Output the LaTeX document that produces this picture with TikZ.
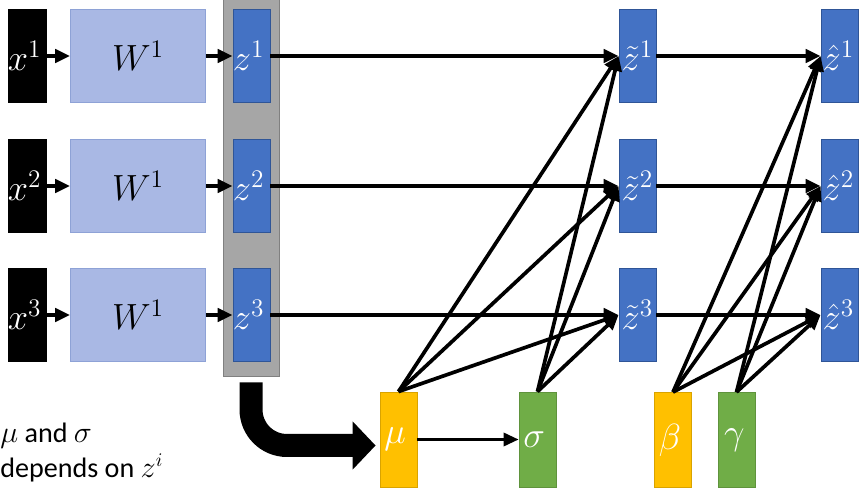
\documentclass[tikz,border=0pt]{standalone}
\usepackage{fontspec}
\setmainfont{Carlito}
\usetikzlibrary{arrows.meta}
\definecolor{wfill}{RGB}{169,184,228}
\definecolor{wline}{RGB}{142,162,214}
\definecolor{zfill}{RGB}{68,114,196}
\definecolor{zline}{RGB}{47,85,151}
\definecolor{colfill}{RGB}{166,166,166}
\definecolor{colline}{RGB}{128,128,128}
\definecolor{mufill}{RGB}{255,192,0}
\definecolor{sgfill}{RGB}{112,173,71}

\begin{document}
\begin{tikzpicture}[x=0.02cm, y=-0.02cm,
  box/.style={draw, line width=0.5pt, minimum width=0.74cm, minimum height=1.86cm, inner sep=0pt},
  xbox/.style={box, fill=black, minimum width=0.76cm},
  wbox/.style={box, draw=wline, fill=wfill, minimum width=2.7cm, font=\fontsize{20}{22}\selectfont},
  zbox/.style={box, draw=zline, fill=zfill},
  mubox/.style={box, draw=mufill!85!black, fill=mufill, minimum height=1.9cm},
  sgbox/.style={box, draw=sgfill!85!black, fill=sgfill, minimum height=1.9cm},
  lbl/.style={text=white, inner sep=0pt, anchor=west, font=\fontsize{20}{22}\selectfont},
  arr/.style={line width=2.1pt, -{Triangle[length=8.5pt,width=7.5pt]}},
  bigarrow/.style={line width=0.46cm, rounded corners=0.72cm, -{Triangle[length=0.46cm,width=0.94cm]}},
  note/.style={anchor=base west, inner sep=0pt, font=\fontsize{16}{20}\selectfont}]
\useasboundingbox (0,0) rectangle (862,499);

\node[draw=colline, fill=colfill, line width=0.5pt, minimum width=1.12cm, minimum height=7.62cm, inner sep=0pt] (col) at (251,185.5) {};

\foreach \i/\y in {1/56,2/186,3/315}{
  \node[xbox] (x\i) at (27,\y) {};
  \node[lbl] at (x\i.west) {$x^{\i}$};
  \node[wbox] (w\i) at (138,\y) {$W^1$};
  \node[zbox] (z\i) at (251.5,\y) {};
  \node[lbl] at (z\i.west) {$z^{\i}$};
  \node[zbox] (tz\i) at (637.5,\y) {};
  \node[lbl, xshift=1.5pt] at (tz\i.west) {$\tilde{z}^{\i}$};
  \node[zbox] (hz\i) at (839.5,\y) {};
  \node[lbl, xshift=1pt] at (hz\i.west) {$\hat{z}^{\i}$};
  \draw[arr] (x\i) -- (w\i);
  \draw[arr] (w\i) -- (z\i);
  \draw[arr] (z\i) -- (tz\i.west);
  \draw[arr] (tz\i) -- (hz\i.west);
}

\node[mubox] (mu) at (398.5,439.5) {};
\node[lbl, xshift=2.5pt] at (mu.west) {$\mu$};
\node[sgbox] (sg) at (537.5,439.5) {};
\node[lbl, xshift=2.5pt] at (sg.west) {$\sigma$};
\node[mubox] (be) at (673,440) {};
\node[lbl, xshift=2.5pt] at (be.west) {$\beta$};
\node[sgbox] (ga) at (736.5,440) {};
\node[lbl, xshift=3.5pt] at (ga.west) {$\gamma$};

\foreach \i in {1,2,3}{
  \draw[arr] (mu.north) -- (tz\i.west);
  \draw[arr] (sg.north) -- (tz\i.west);
  \draw[arr] (be.north) -- (hz\i.west);
  \draw[arr] (ga.north) -- (hz\i.west);
}
\draw[arr, line width=1.6pt] (mu) -- (sg);
\draw[bigarrow, shorten <=0.12cm, shorten >=0.08cm] (col.south) |- ([yshift=-0.12cm]mu.west);

\node[note] (n1) at (0,443) {$\mu$ and $\sigma$};
\node[note] (n2) at (0,478) {depends on $z^i$};
\end{tikzpicture}
\end{document}
